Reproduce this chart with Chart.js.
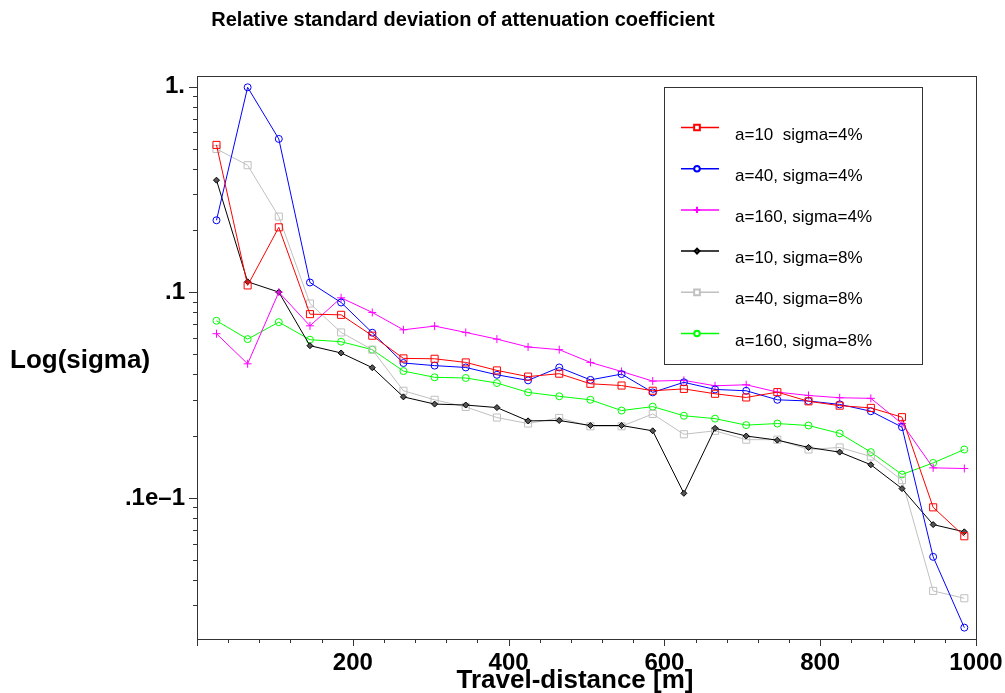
<!DOCTYPE html>
<html>
<head>
<meta charset="utf-8">
<script src="https://cdn.jsdelivr.net/npm/chart.js@4.4.1/dist/chart.umd.min.js"></script>
<style>
  html, body { margin: 0; padding: 0; background: #fff; }
  #wrap { width: 1005px; height: 693px; }
</style>
</head>
<body>
<div id="wrap"><canvas id="chart" width="1005" height="693"></canvas></div>
<script>
/* ============================================================
   DATA
   ============================================================ */
const distances = [25, 65, 105, 145, 185, 225, 265, 305, 345, 385, 425, 465, 505,
                   545, 585, 625, 665, 705, 745, 785, 825, 865, 905, 945, 985];

const a10s4 = [0.521, 0.108, 0.207, 0.0783, 0.0777, 0.0615, 0.0477, 0.0475, 0.0456, 0.0417,
               0.0389, 0.0402, 0.0359, 0.0352, 0.0332, 0.0339, 0.0321, 0.0308, 0.0327, 0.0295,
               0.0281, 0.0274, 0.0247, 0.0090, 0.00651];
const a40s4 = [0.224, 0.993, 0.557, 0.1116, 0.0892, 0.0636, 0.0453, 0.0440, 0.0431, 0.0397,
               0.0373, 0.0431, 0.0375, 0.0400, 0.0326, 0.0365, 0.0337, 0.0332, 0.0300, 0.0296,
               0.0285, 0.0264, 0.0221, 0.00517, 0.00234];
const a160s4 = [0.0629, 0.0449, 0.1002, 0.0687, 0.0940, 0.0798, 0.0657, 0.0685, 0.0638, 0.0592,
                0.0542, 0.0526, 0.0456, 0.0412, 0.0370, 0.0373, 0.0351, 0.0355, 0.0327, 0.0315,
                0.0307, 0.0305, 0.0230, 0.0140, 0.0139];
const a10s8 = [0.351, 0.1125, 0.1002, 0.0550, 0.0507, 0.0430, 0.0310, 0.0286, 0.0283, 0.0275,
               0.0237, 0.0238, 0.0225, 0.0225, 0.0212, 0.01053, 0.0218, 0.0200, 0.0191, 0.0176,
               0.0167, 0.0145, 0.0111, 0.00742, 0.00684];
const a40s8 = [0.498, 0.415, 0.2335, 0.0882, 0.0638, 0.0526, 0.0332, 0.0300, 0.0277, 0.0246,
               0.0230, 0.0245, 0.0223, 0.0223, 0.0256, 0.0204, 0.0212, 0.0192, 0.0192, 0.0172,
               0.0176, 0.0159, 0.0122, 0.00353, 0.00325];
const a160s8 = [0.0727, 0.0592, 0.0716, 0.0588, 0.0575, 0.0526, 0.0414, 0.0386, 0.0383, 0.0362,
                0.0326, 0.0312, 0.0300, 0.0266, 0.0278, 0.0251, 0.0243, 0.0226, 0.0230, 0.0225,
                0.0206, 0.0167, 0.0130, 0.0148, 0.0172];

const seriesLabels = ["a=10  sigma=4%", "a=40, sigma=4%", "a=160, sigma=4%",
                      "a=10, sigma=8%", "a=40, sigma=8%", "a=160, sigma=8%"];

const xLabelTicks = [200, 400, 600, 800, 1000];
const yMajorValues = [1, 0.1, 0.01];
const yMajorLabels = ["1.", ".1", ".1e\u20131"];

/* ============================================================
   STYLE
   ============================================================ */
const FONT = "'Liberation Sans', Arial, Helvetica, sans-serif";
const AXIS = "#333";

function series(label, values, color, style, radius, fill) {
    return {
        label: label,
        data: distances.map((d, i) => ({ x: d, y: values[i] })),
        borderColor: color,
        borderWidth: 1,
        pointStyle: style,
        pointRadius: radius,
        pointBorderColor: color,
        pointBackgroundColor: fill || "rgba(0,0,0,0)",
        pointBorderWidth: 1,
        tension: 0,
        fill: false
    };
}

const datasets = [
    series(seriesLabels[0], a10s4, "#ff0000", "rect", 5),
    series(seriesLabels[1], a40s4, "#0000ff", "circle", 3.5),
    series(seriesLabels[2], a160s4, "#ff00ff", "cross", 4),
    series(seriesLabels[3], a10s8, "#000000", "rectRot", 3, "#555"),
    series(seriesLabels[4], a40s8, "#c0c0c0", "rect", 5),
    series(seriesLabels[5], a160s8, "#00ff00", "circle", 3.5)
];

/* ============================================================
   PLUGINS: frame + tick marks, texts, legend box
   ============================================================ */
const framePlugin = {
    id: "framePlugin",
    afterDraw(chart) {
        const { ctx, chartArea: a, scales } = chart;
        ctx.save();
        ctx.strokeStyle = AXIS;
        ctx.lineWidth = 1;
        ctx.strokeRect(a.left + 0.5, a.top + 0.5, a.right - a.left, a.bottom - a.top);

        // x ticks every 40 m, longer at the labelled ones
        scales.x.ticks.forEach(t => {
            const px = Math.round(scales.x.getPixelForValue(t.value)) + 0.5;
            const len = (t.value % 200 === 0) ? 7 : 4;
            ctx.beginPath();
            ctx.moveTo(px, a.bottom);
            ctx.lineTo(px, a.bottom + len);
            ctx.stroke();
        });
        // y ticks on log scale
        scales.y.ticks.forEach(t => {
            const py = Math.round(scales.y.getPixelForValue(t.value)) + 0.5;
            const major = yMajorValues.some(v => Math.abs(v - t.value) < v * 1e-6);
            const len = major ? 8 : 4;
            ctx.beginPath();
            ctx.moveTo(a.left, py);
            ctx.lineTo(a.left - len, py);
            ctx.stroke();
        });
        ctx.restore();
    }
};

const textPlugin = {
    id: "textPlugin",
    afterDraw(chart) {
        const { ctx } = chart;
        ctx.save();
        ctx.fillStyle = "#000";
        ctx.textBaseline = "alphabetic";

        ctx.font = "bold 20px " + FONT;
        ctx.textAlign = "center";
        ctx.fillText("Relative standard deviation of attenuation coefficient", 463, 26);

        ctx.font = "bold 26px " + FONT;
        ctx.fillText("Travel-distance [m]", 575, 688);

        ctx.textAlign = "left";
        ctx.fillText("Log(sigma)", 10, 368);
        ctx.restore();
    }
};

const legendBoxPlugin = {
    id: "legendBoxPlugin",
    afterDraw(chart) {
        const { ctx } = chart;
        const box = { x: 664, y: 87, w: 258, h: 277 };
        ctx.save();
        ctx.fillStyle = "#fff";
        ctx.fillRect(box.x, box.y, box.w, box.h);
        ctx.strokeStyle = AXIS;
        ctx.lineWidth = 1;
        ctx.strokeRect(box.x + 0.5, box.y + 0.5, box.w, box.h);

        ctx.font = "17px " + FONT;
        ctx.textAlign = "left";
        ctx.textBaseline = "alphabetic";
        chart.data.datasets.forEach((ds, i) => {
            const ly = 127.5 + i * 41.2;
            ctx.strokeStyle = ds.borderColor;
            ctx.lineWidth = 1.5;
            ctx.beginPath();
            ctx.moveTo(681, ly);
            ctx.lineTo(719, ly);
            ctx.stroke();

            ctx.lineWidth = 2;
            ctx.fillStyle = ds.pointBackgroundColor === "rgba(0,0,0,0)" ? "#fff" : ds.pointBackgroundColor;
            Chart.helpers.drawPoint(ctx, {
                pointStyle: ds.pointStyle,
                radius: ds.pointRadius * 0.8,
                borderWidth: 2,
                rotation: 0
            }, 697, ly);

            ctx.fillStyle = "#000";
            ctx.fillText(ds.label, 735, ly + 12);
        });
        ctx.restore();
    }
};

/* ============================================================
   CHART
   ============================================================ */
const canvas = document.getElementById("chart");

new Chart(canvas, {
    type: "line",
    data: { datasets },
    options: {
        responsive: false,
        animation: false,
        devicePixelRatio: 1,
        layout: { padding: { left: 0, top: 76, right: 29, bottom: 0 } },
        plugins: {
            legend: { display: false },
            title: { display: false },
            tooltip: { enabled: false }
        },
        scales: {
            x: {
                type: "linear",
                min: 0,
                max: 1000,
                grid: { display: false, drawTicks: false },
                border: { display: false },
                ticks: {
                    stepSize: 40,
                    autoSkip: false,
                    maxRotation: 0,
                    padding: 10,
                    color: "#000",
                    font: { family: FONT, size: 24, weight: "bold" },
                    callback: v => xLabelTicks.includes(v) ? String(v) : ""
                },
                afterFit(scale) {
                    scale.height = 54;
                    scale.paddingLeft = 0;
                    scale.paddingRight = 0;
                }
            },
            y: {
                type: "logarithmic",
                min: 0.00206,
                max: 1.127,
                grid: { display: false, drawTicks: false },
                border: { display: false },
                afterBuildTicks(scale) {
                    const ticks = [];
                    for (let e = -3; e <= 0; e++) {
                        for (let m = 1; m <= 9; m++) {
                            const v = m * Math.pow(10, e);
                            if (v >= scale.min && v <= scale.max) ticks.push({ value: v });
                        }
                    }
                    scale.ticks = ticks;
                },
                ticks: {
                    autoSkip: false,
                    padding: 12,
                    color: "#000",
                    font: { family: FONT, size: 24, weight: "bold" },
                    callback: v => {
                        const k = yMajorValues.findIndex(m => Math.abs(m - v) < m * 1e-6);
                        return k >= 0 ? yMajorLabels[k] : "";
                    }
                },
                afterFit(scale) { scale.width = 197; }
            }
        }
    },
    plugins: [framePlugin, textPlugin, legendBoxPlugin]
});
</script>
</body>
</html>
